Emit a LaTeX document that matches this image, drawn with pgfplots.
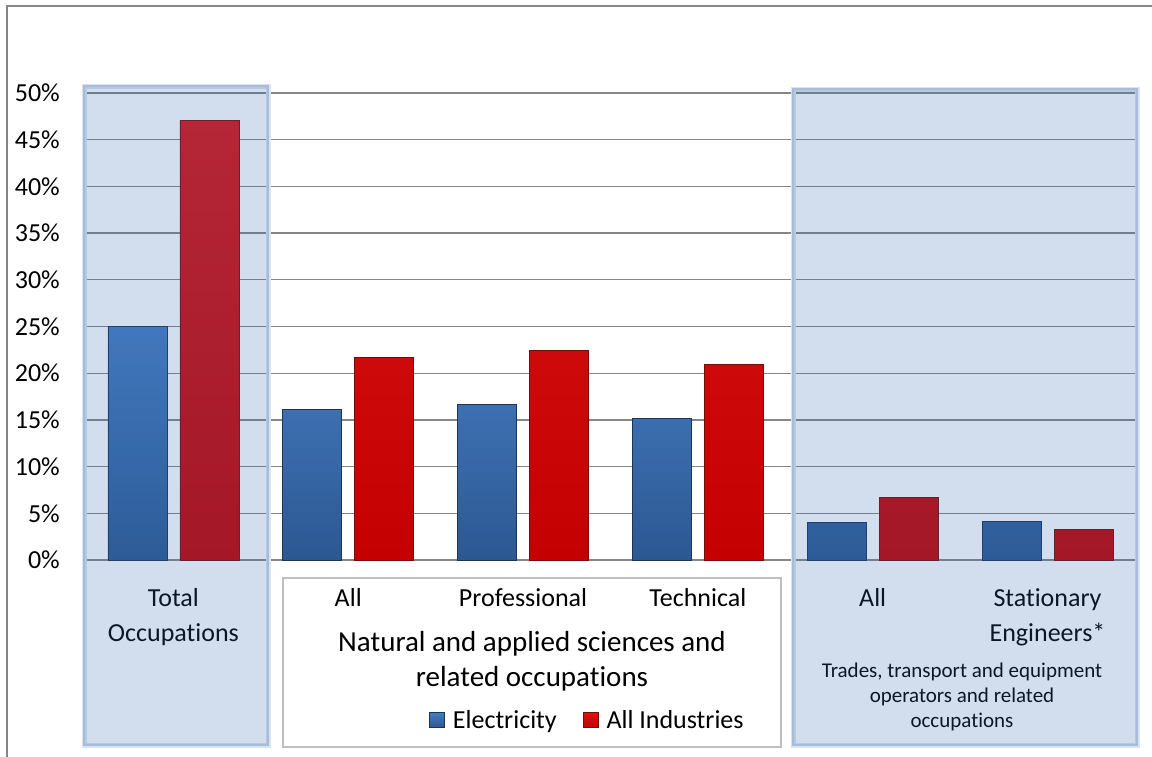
\documentclass[border=0pt]{standalone}
\usepackage{fontspec}
\setmainfont{Carlito}[Ligatures=NoCommon]
\usepackage{pgfplots}
\pgfplotsset{compat=1.18}

\definecolor{gridgray}{RGB}{134,134,134}
\definecolor{blueTop}{RGB}{70,124,194}
\definecolor{blueBot}{RGB}{44,88,146}
\definecolor{blueEdge}{RGB}{28,52,88}
\definecolor{redTop}{RGB}{218,20,20}
\definecolor{redBot}{RGB}{196,0,0}
\definecolor{redEdge}{RGB}{120,10,10}
\definecolor{panelTint}{RGB}{51,106,176}
\definecolor{panelEdge}{RGB}{166,188,216}
\definecolor{panelGlow}{RGB}{218,228,240}
\definecolor{boxGray}{RGB}{191,191,191}
\definecolor{frameGray}{RGB}{134,134,134}

\begin{document}
\begin{tikzpicture}
\path[use as bounding box] (0pt,0pt) rectangle (1152pt,-756pt);

% white box holding the science group label and the legend
\begin{scope}[x=1pt,y=-1pt]
  \filldraw[fill=white, draw=boxGray, line width=1.5pt] (283,578) rectangle (781,747);
\end{scope}

\begin{axis}[
  at={(86pt,-560pt)}, anchor=south west,
  scale only axis, width=1049pt, height=467pt,
  xmin=-0.5, xmax=5.5, ymin=0, ymax=50,
  axis line style={draw=none},
  ytick={0,5,...,50},
  xtick={0,...,5},
  xticklabels={{Total\\Occupations},All,Professional,Technical,All,{Stationary\\Engineers*}},
  major tick length=0pt,
  ymajorgrids, grid style={gridgray, line width=1.3pt},
  yticklabel={\pgfmathprintnumber{\tick}\%},
  /pgf/number format/assume math mode=true,
  ticklabel style={font=\fontsize{26}{35}\selectfont, inner sep=0pt},
  yticklabel style={anchor=east, xshift=-26pt},
  xticklabel style={anchor=north, align=center, yshift=-28pt},
  legend style={draw=none, fill=none, at={(0.478,-0.3426)}, anchor=center,
    font=\fontsize{26}{31}\selectfont, legend columns=2,
    /tikz/every even column/.append style={column sep=24pt}},
  legend image code/.code={\filldraw[#1] (0pt,-7.5pt) rectangle (15pt,7.5pt);
    \path (21pt,0pt);},
]
\addplot[ybar, bar width=59pt, bar shift=-36pt, draw=blueEdge, line width=0.8pt,
  top color=blueTop, bottom color=blueBot]
  coordinates {(0,25.0) (1,16.1) (2,16.7) (3,15.2) (4,4.0) (5,4.1)};
\addlegendentry{Electricity}
\addplot[ybar, bar width=59pt, bar shift=36pt, draw=redEdge, line width=0.8pt,
  top color=redTop, bottom color=redBot]
  coordinates {(0,47.1) (1,21.7) (2,22.4) (3,20.9) (4,6.7) (5,3.3)};
\addlegendentry{All Industries}
\end{axis}

\begin{scope}[x=1pt,y=-1pt]
  \node[align=center, font=\fontsize{29}{35}\selectfont] at (532,661)
    {Natural and applied sciences and\\related occupations};
  \node[align=center, font=\fontsize{21}{25}\selectfont] at (962,697)
    {Trades, transport and equipment\\operators and related\\occupations};
  % translucent panels over the two outer groups
  \foreach \xa/\ya/\xb/\yb in {84/86/268/745, 793/89/1137/745}{
    \draw[panelGlow, line width=5pt] (\xa,\ya) rectangle (\xb,\yb);
    \fill[panelTint, fill opacity=0.22] (\xa,\ya) rectangle (\xb,\yb);
    \draw[panelEdge, line width=2.5pt] (\xa,\ya) rectangle (\xb,\yb);
  }
  % chart frame
  \draw[frameGray, line width=1.5pt] (7,770) -- (7,6) -- (1170,6);
\end{scope}
\end{tikzpicture}
\end{document}
